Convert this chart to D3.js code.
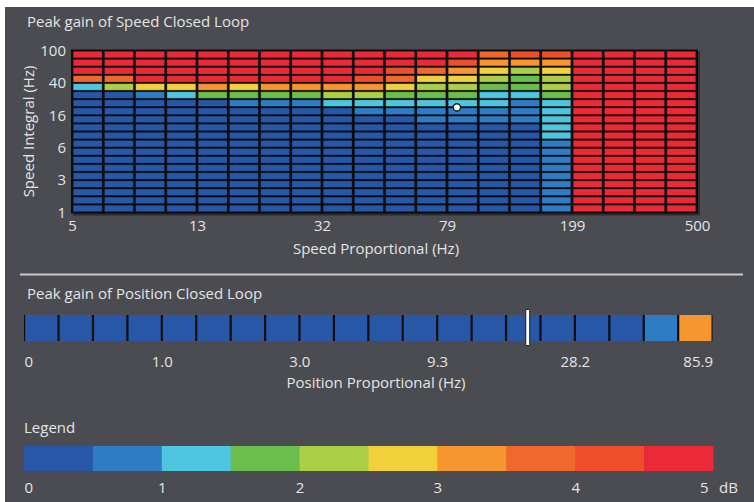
<!DOCTYPE html>
<html>
<head>
<meta charset="utf-8">
<script src="https://cdn.jsdelivr.net/npm/d3@7"></script>
<style>
  html, body { margin: 0; padding: 0; background: #ffffff; }
  svg { display: block; }
  text { font-family: "Open Sans", "Noto Sans", sans-serif; }
</style>
</head>
<body>
<svg id="chart" width="754" height="502"></svg>
<script>
// ---------------- DATA ----------------
// Speed closed loop: x = Speed Proportional (Hz), y = Speed Integral (Hz)
const speedPropTicks = [5, 13, 32, 79, 199, 500];
const speedIntTicks = [100, 40, 16, 6, 3, 1];
// Peak gain (dB) per column (Speed Proportional step), rows from top (100 Hz) to bottom (1 Hz)
const speedGain = [
  [4.8,4.8,4.8,3.7,1.2,0.3,0.3,0.3,0.3,0.3,0.3,0.3,0.3,0.3,0.3,0.3,0.3,0.3,0.3,0.3],
  [4.8,4.8,4.8,3.7,2.2,0.3,0.3,0.3,0.3,0.3,0.3,0.3,0.3,0.3,0.3,0.3,0.3,0.3,0.3,0.3],
  [4.8,4.8,4.8,4.8,2.7,0.7,0.3,0.3,0.3,0.3,0.3,0.3,0.3,0.3,0.3,0.3,0.3,0.3,0.3,0.3],
  [4.8,4.8,4.8,4.8,2.7,1.2,0.3,0.3,0.3,0.3,0.3,0.3,0.3,0.3,0.3,0.3,0.3,0.3,0.3,0.3],
  [4.8,4.8,4.8,4.8,3.2,1.7,0.3,0.3,0.3,0.3,0.3,0.3,0.3,0.3,0.3,0.3,0.3,0.3,0.3,0.3],
  [4.8,4.8,4.8,4.8,2.7,1.7,0.7,0.3,0.3,0.3,0.3,0.3,0.3,0.3,0.3,0.3,0.3,0.3,0.3,0.3],
  [4.8,4.8,4.8,4.8,3.2,1.7,0.7,0.3,0.3,0.3,0.3,0.3,0.3,0.3,0.3,0.3,0.3,0.3,0.3,0.3],
  [4.8,4.8,4.8,4.8,3.2,1.7,0.7,0.3,0.3,0.3,0.3,0.3,0.3,0.3,0.3,0.3,0.3,0.3,0.3,0.3],
  [4.8,4.8,4.8,4.8,3.2,2.2,1.2,0.3,0.3,0.3,0.3,0.3,0.3,0.3,0.3,0.3,0.3,0.3,0.3,0.3],
  [4.8,4.8,4.8,4.2,3.2,2.2,1.2,0.7,0.3,0.3,0.3,0.3,0.3,0.3,0.3,0.3,0.3,0.3,0.3,0.3],
  [4.8,4.8,4.2,3.7,2.7,1.7,1.2,0.7,0.3,0.3,0.3,0.3,0.3,0.3,0.3,0.3,0.3,0.3,0.3,0.3],
  [4.8,4.8,3.7,2.7,2.2,1.7,1.2,0.7,0.7,0.3,0.3,0.3,0.3,0.3,0.3,0.3,0.3,0.3,0.3,0.3],
  [4.8,4.2,3.2,2.7,2.2,1.7,1.2,0.7,0.7,0.3,0.3,0.3,0.3,0.3,0.3,0.3,0.3,0.3,0.3,0.3],
  [3.7,3.2,2.7,2.2,1.7,1.2,1.2,0.7,0.7,0.3,0.3,0.3,0.3,0.3,0.3,0.3,0.3,0.3,0.3,0.3],
  [4.2,3.2,2.2,1.7,1.7,1.2,0.7,0.7,0.7,0.3,0.3,0.3,0.3,0.3,0.3,0.3,0.3,0.3,0.3,0.3],
  [4.2,3.2,2.7,2.2,2.2,1.7,1.2,1.2,1.2,1.2,1.2,0.7,0.7,0.7,0.7,0.7,0.7,0.7,0.7,0.7],
  [4.8,4.8,4.8,4.8,4.8,4.8,4.8,4.8,4.8,4.8,4.8,4.8,4.8,4.8,4.8,4.8,4.8,4.8,4.8,4.8],
  [4.8,4.8,4.8,4.8,4.8,4.8,4.8,4.8,4.8,4.8,4.8,4.8,4.8,4.8,4.8,4.8,4.8,4.8,4.8,4.8],
  [4.8,4.8,4.8,4.8,4.8,4.8,4.8,4.8,4.8,4.8,4.8,4.8,4.8,4.8,4.8,4.8,4.8,4.8,4.8,4.8],
  [4.8,4.8,4.8,4.8,4.8,4.8,4.8,4.8,4.8,4.8,4.8,4.8,4.8,4.8,4.8,4.8,4.8,4.8,4.8,4.8]
];
const speedCurrent = { kp: 85, ki: 20 };

// Position closed loop
const posTickValues = [0.32, 1.0, 3.0, 9.3, 28.2, 85.9];
const posTickLabels = ["0", "1.0", "3.0", "9.3", "28.2", "85.9"];
const posGain = [0.3,0.3,0.3,0.3,0.3,0.3,0.3,0.3,0.3,0.3,0.3,0.3,0.3,0.3,0.3,0.3,0.3,0.3,0.7,3.2];
const posCurrent = 19.3;

// Legend
const legendTicks = [0, 1, 2, 3, 4, 5];
const palette = ["#2757A6","#2E7CC3","#4FC6DF","#6BBE4B","#AACF46",
                 "#F2D03B","#F7962F","#F2672B","#EE4F2B","#EC2A37"];

// ---------------- DRAW ----------------
const svg = d3.select("#chart");
const textColor = "#E4E4E4";
const fs = 15;
const color = d3.scaleQuantize().domain([0, 5]).range(palette);

svg.append("rect").attr("x", 5).attr("y", 7).attr("width", 749).attr("height", 495)
  .attr("fill", "#4B4C51");

// Speed heatmap
const hm = { x0: 72, x1: 697, y0: 50.5, y1: 212.5 };
const nCols = speedGain.length, nRows = speedGain[0].length;
const xBand = d3.scaleBand().domain(d3.range(nCols)).range([hm.x0, hm.x1]);
const yBand = d3.scaleBand().domain(d3.range(nRows)).range([hm.y0, hm.y1]);
const xTickPos = d3.scaleLinear().domain([0, speedPropTicks.length - 1]).range([hm.x0, hm.x1]);
const yTickPos = d3.scaleLinear().domain([0, speedIntTicks.length - 1]).range([hm.y0, hm.y1]);
const kpScale = d3.scaleLog().domain(speedPropTicks).range(speedPropTicks.map((_, i) => xTickPos(i)));
const kiScale = d3.scaleLog().domain(speedIntTicks).range(speedIntTicks.map((_, i) => yTickPos(i)));

svg.append("text").attr("x", 27).attr("y", 26.5).attr("fill", textColor)
  .attr("font-size", fs).text("Peak gain of Speed Closed Loop");

// shadow + frame
svg.append("rect").attr("x", hm.x0 + 1).attr("y", hm.y0 + 1)
  .attr("width", hm.x1 - hm.x0 + 2).attr("height", hm.y1 - hm.y0 + 2)
  .attr("fill", "#2c2c30");
svg.append("rect").attr("x", hm.x0 - 1).attr("y", hm.y0 - 1)
  .attr("width", hm.x1 - hm.x0 + 2).attr("height", hm.y1 - hm.y0 + 2)
  .attr("fill", "#0d0d0f");

const cells = [];
speedGain.forEach((col, c) => col.forEach((v, r) => cells.push({ c, r, v })));
svg.append("g").selectAll("rect").data(cells).join("rect")
  .attr("x", d => xBand(d.c) + 1.2)
  .attr("y", d => yBand(d.r) + 0.8)
  .attr("width", xBand.bandwidth() - 2.4)
  .attr("height", yBand.bandwidth() - 1.6)
  .attr("fill", d => color(d.v))
  .attr("stroke", "rgba(0,0,0,0.3)").attr("stroke-width", 0.8);

svg.append("circle")
  .attr("cx", kpScale(speedCurrent.kp)).attr("cy", kiScale(speedCurrent.ki))
  .attr("r", 3.6).attr("fill", "#ffffff").attr("stroke", "#1a1a1a").attr("stroke-width", 1.4);

const xAxis = svg.append("g").attr("transform", `translate(0,${hm.y1})`)
  .call(d3.axisBottom(kpScale).tickValues(speedPropTicks).tickFormat(d3.format("d"))
    .tickSize(0).tickPadding(8));
const yAxis = svg.append("g").attr("transform", `translate(${hm.x0},0)`)
  .call(d3.axisLeft(kiScale).tickValues(speedIntTicks).tickFormat(d3.format("d"))
    .tickSize(0).tickPadding(6));
[xAxis, yAxis].forEach(a => {
  a.select(".domain").remove();
  a.selectAll("text").attr("fill", textColor).attr("font-size", fs)
    .attr("font-family", "'Open Sans', sans-serif");
});

svg.append("text").attr("x", 376).attr("y", 253.5).attr("text-anchor", "middle")
  .attr("fill", textColor).attr("font-size", fs).text("Speed Proportional (Hz)");
svg.append("text").attr("transform", `translate(34,${(hm.y0 + hm.y1) / 2}) rotate(-90)`)
  .attr("text-anchor", "middle").attr("fill", textColor).attr("font-size", fs)
  .text("Speed Integral (Hz)");

// separator
svg.append("line").attr("x1", 20).attr("x2", 743).attr("y1", 274.5).attr("y2", 274.5)
  .attr("stroke", "#C9C9CB").attr("stroke-width", 2);

// Position bar
svg.append("text").attr("x", 27).attr("y", 299).attr("fill", textColor)
  .attr("font-size", fs).text("Peak gain of Position Closed Loop");
const pb = { x0: 24, x1: 712.5, y0: 315, y1: 341 };
const pBand = d3.scaleBand().domain(d3.range(posGain.length)).range([pb.x0, pb.x1]);
const pTickPos = d3.scaleLinear().domain([0, posTickValues.length - 1]).range([pb.x0, pb.x1]);
const posScale = d3.scaleLog().domain(posTickValues).range(posTickValues.map((_, i) => pTickPos(i)));
svg.append("rect").attr("x", pb.x0).attr("y", pb.y0).attr("width", pb.x1 - pb.x0)
  .attr("height", pb.y1 - pb.y0).attr("fill", "#0d0d0f");
svg.append("g").selectAll("rect").data(posGain).join("rect")
  .attr("x", (d, i) => pBand(i) + 1.2).attr("y", pb.y0)
  .attr("width", pBand.bandwidth() - 2.2).attr("height", pb.y1 - pb.y0)
  .attr("fill", d => color(d));
svg.append("rect").attr("x", posScale(posCurrent) - 2).attr("y", 309.5)
  .attr("width", 4).attr("height", 36).attr("rx", 1)
  .attr("fill", "#ffffff").attr("stroke", "#1a1a1a").attr("stroke-width", 1);
const pAxis = svg.append("g").attr("transform", `translate(0,${pb.y1})`)
  .call(d3.axisBottom(posScale).tickValues(posTickValues)
    .tickFormat((d, i) => posTickLabels[i]).tickSize(0).tickPadding(15));
pAxis.select(".domain").remove();
pAxis.selectAll("text").attr("fill", textColor).attr("font-size", fs)
  .attr("font-family", "'Open Sans', sans-serif")
  .attr("text-anchor", (d, i) => i === 0 ? "start" : (i === posTickValues.length - 1 ? "end" : "middle"));
svg.append("text").attr("x", 376).attr("y", 387.5).attr("text-anchor", "middle")
  .attr("fill", textColor).attr("font-size", fs).text("Position Proportional (Hz)");

// Legend
svg.append("text").attr("x", 24).attr("y", 433).attr("fill", textColor)
  .attr("font-size", fs).text("Legend");
const lg = { x0: 24, x1: 713, y0: 446, y1: 471 };
const legendScale = d3.scaleLinear().domain([0, 5]).range([lg.x0, lg.x1]);
svg.append("g").selectAll("rect").data(palette).join("rect")
  .attr("x", d => legendScale(color.invertExtent(d)[0]))
  .attr("width", d => legendScale(color.invertExtent(d)[1]) - legendScale(color.invertExtent(d)[0]) + 0.5)
  .attr("y", lg.y0).attr("height", lg.y1 - lg.y0)
  .attr("fill", d => d);
const lAxis = svg.append("g").attr("transform", `translate(0,${lg.y1})`)
  .call(d3.axisBottom(legendScale).tickValues(legendTicks).tickFormat(d3.format("d"))
    .tickSize(0).tickPadding(11.5));
lAxis.select(".domain").remove();
lAxis.selectAll("text").attr("fill", textColor).attr("font-size", fs)
  .attr("font-family", "'Open Sans', sans-serif")
  .attr("text-anchor", (d, i) => i === 0 ? "start" : (i === legendTicks.length - 1 ? "end" : "middle"))
  .attr("dx", (d, i) => i === legendTicks.length - 1 ? -5 : 0);
svg.append("text").attr("x", 719).attr("y", 493).attr("fill", textColor)
  .attr("font-size", fs).text("dB");
</script>
</body>
</html>
